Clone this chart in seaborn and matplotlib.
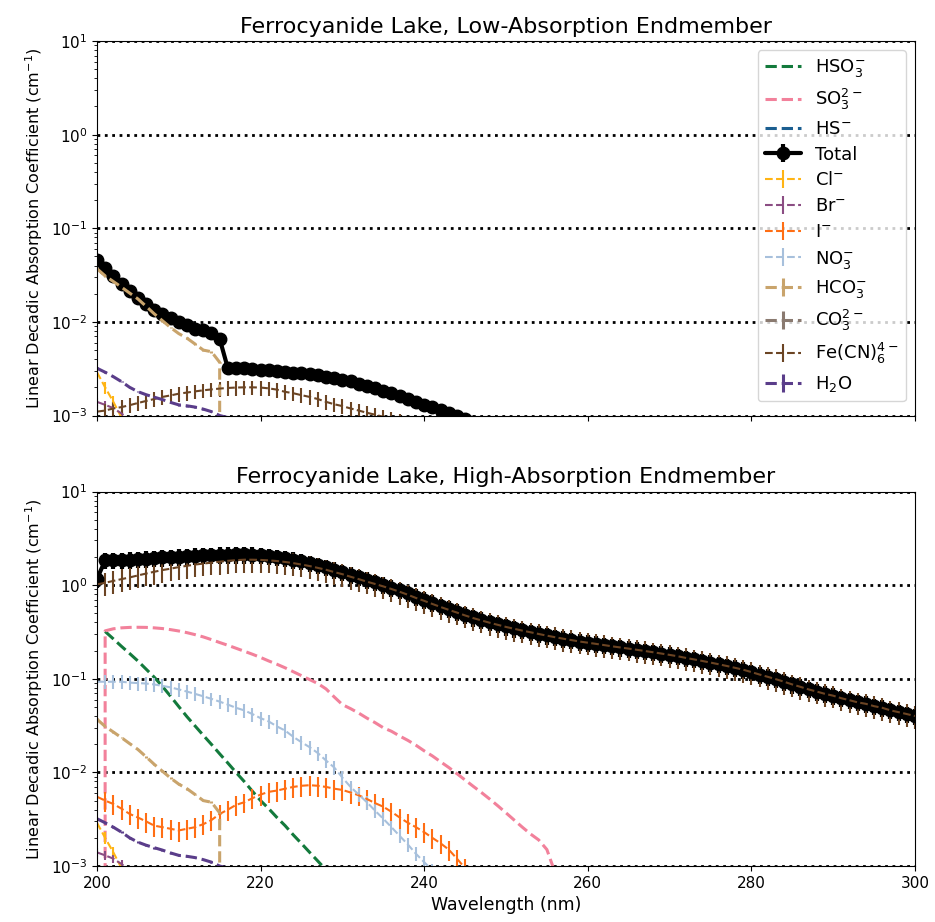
import numpy as np
import matplotlib
matplotlib.use("Agg")
import matplotlib.pyplot as plt
import seaborn as sns

# ---------------- data ----------------
wavelength = list(range(200, 301))  # nm

# Low-absorption endmember
total_low = [0.046, 0.0376, 0.0307, 0.0254, 0.0212, 0.018, 0.0156, 0.0135, 0.012, 0.0109,
             0.0099, 0.0092, 0.0085, 0.0081, 0.0076, 0.0066, 0.0032, 0.0032, 0.00318, 0.00315,
             0.0031, 0.00305, 0.0030, 0.00294, 0.00288, 0.00282, 0.00275, 0.00268, 0.00261, 0.00252,
             0.00242, 0.00231, 0.00219, 0.00207, 0.00195, 0.00183, 0.00172, 0.00161, 0.0015, 0.0014,
             0.00131, 0.00122, 0.00114, 0.00106, 0.00099, 0.00092, 0.00085, 0.00079, 0.00073, 0.00068,
             0.00063]
fe_low = [0.0011, 0.00113, 0.00119, 0.00123, 0.00129, 0.00136, 0.00143, 0.0015, 0.00158, 0.00164,
          0.00171, 0.00176, 0.00181, 0.00186, 0.0019, 0.00194, 0.00197, 0.00199, 0.002, 0.002,
          0.00199, 0.00195, 0.00189, 0.00179, 0.00173, 0.00165, 0.00158, 0.0015, 0.0014, 0.00132,
          0.00126, 0.00119, 0.00113, 0.00107, 0.00102, 0.00097, 0.00092, 0.00087, 0.00082, 0.00077,
          0.00072]

# Shared minor constituents (both endmembers)
hco3 = [0.037, 0.031, 0.027, 0.0235, 0.0203, 0.0176, 0.0147, 0.0122, 0.0103, 0.0087,
        0.0075, 0.0067, 0.0058, 0.005, 0.0048, 0.0037, 0.0]
h2o = [0.0032, 0.0029, 0.0026, 0.0023, 0.002, 0.0018, 0.00167, 0.00157, 0.00148, 0.00138,
       0.0013, 0.00127, 0.00123, 0.00117, 0.0011, 0.001, 0.00095, 0.0009, 0.00085, 0.0008, 0.00075]
cl = [0.0029, 0.002, 0.0014, 0.00095, 0.0006]
br = [0.0014, 0.0013, 0.0012, 0.00105, 0.0009]

# High-absorption endmember
total_high = [1.165, 1.84, 1.85, 1.857, 1.868, 1.893, 1.919, 1.948, 1.975, 1.994,
              2.023, 2.044, 2.066, 2.079, 2.092, 2.105, 2.119, 2.127, 2.127, 2.108,
              2.079, 2.04, 1.994, 1.938, 1.872, 1.798, 1.725, 1.643, 1.559, 1.462,
              1.378, 1.291, 1.215, 1.138, 1.073, 1.008, 0.944, 0.88, 0.817, 0.754,
              0.70, 0.648, 0.60, 0.558, 0.521, 0.484, 0.452, 0.426, 0.402, 0.381,
              0.362, 0.345, 0.33, 0.316, 0.303, 0.29, 0.279, 0.268, 0.259, 0.25,
              0.243, 0.236, 0.229, 0.222, 0.216, 0.21, 0.204, 0.198, 0.192, 0.186,
              0.18, 0.174, 0.167, 0.161, 0.155, 0.149, 0.143, 0.137, 0.131, 0.125,
              0.118, 0.111, 0.105, 0.099, 0.093, 0.087, 0.082, 0.077, 0.073, 0.069,
              0.066, 0.062, 0.059, 0.056, 0.054, 0.051, 0.049, 0.046, 0.044, 0.042,
              0.040]
fe_high = [1.02, 1.06, 1.11, 1.16, 1.21, 1.27, 1.33, 1.39, 1.45, 1.50,
           1.56, 1.61, 1.66, 1.70, 1.74, 1.78, 1.82, 1.85, 1.87, 1.87,
           1.86, 1.84, 1.81, 1.77, 1.72, 1.66, 1.60, 1.53, 1.46, 1.38,
           1.31, 1.23, 1.16, 1.09, 1.03, 0.97, 0.91, 0.85, 0.79, 0.73,
           0.68, 0.63, 0.585, 0.545, 0.51, 0.475, 0.445, 0.42, 0.397, 0.377,
           0.358, 0.342, 0.327, 0.314, 0.301, 0.289, 0.278, 0.268, 0.259, 0.25,
           0.243, 0.236, 0.229, 0.222, 0.216, 0.21, 0.204, 0.198, 0.192, 0.186,
           0.18, 0.174, 0.167, 0.161, 0.155, 0.149, 0.143, 0.137, 0.131, 0.125,
           0.118, 0.111, 0.105, 0.099, 0.093, 0.087, 0.082, 0.077, 0.073, 0.069,
           0.066, 0.062, 0.059, 0.056, 0.054, 0.051, 0.049, 0.046, 0.044, 0.042,
           0.040]
so3_high = [0.0, 0.325, 0.342, 0.35, 0.354, 0.355, 0.354, 0.35, 0.344, 0.335,
            0.324, 0.311, 0.296, 0.28, 0.262, 0.244, 0.228, 0.212, 0.197, 0.183,
            0.169, 0.155, 0.143, 0.131, 0.119, 0.108, 0.098, 0.089, 0.078, 0.064,
            0.053, 0.048, 0.043, 0.038, 0.034, 0.030, 0.0275, 0.0245, 0.022, 0.0195,
            0.017, 0.015, 0.013, 0.0113, 0.0097, 0.0083, 0.0071, 0.0061, 0.0052, 0.0044,
            0.0037, 0.0031, 0.0026, 0.0022, 0.0019, 0.0015, 0.00085, 0.0]
hso3_high = [np.nan, 0.32, 0.267, 0.222, 0.186, 0.155, 0.127, 0.104, 0.083, 0.065,
             0.0505, 0.0394, 0.0313, 0.0249, 0.0199, 0.0158, 0.0126, 0.01, 0.008, 0.0063,
             0.005, 0.0041, 0.0033, 0.0027, 0.00215, 0.00174, 0.0014, 0.00113, 0.00091, 0.00074,
             0.0006]
no3_high = [0.093, 0.093, 0.093, 0.093, 0.091, 0.09, 0.089, 0.087, 0.084, 0.081,
            0.077, 0.073, 0.069, 0.065, 0.061, 0.057, 0.053, 0.049, 0.046, 0.042,
            0.038, 0.035, 0.031, 0.028, 0.024, 0.021, 0.0186, 0.0161, 0.0134, 0.0113,
            0.0088, 0.007, 0.0058, 0.0048, 0.0039, 0.0032, 0.0026, 0.0021, 0.0017, 0.00135,
            0.0011, 0.0009]
i_high = [0.0055, 0.005, 0.0046, 0.0041, 0.0036, 0.0033, 0.003, 0.0027, 0.0026, 0.0025,
          0.0024, 0.0025, 0.0026, 0.0028, 0.0031, 0.0036, 0.004, 0.0045, 0.0048, 0.0053,
          0.0058, 0.0062, 0.0064, 0.0067, 0.007, 0.0072, 0.0073, 0.0072, 0.007, 0.0067,
          0.0065, 0.0061, 0.0057, 0.0052, 0.0047, 0.0043, 0.0038, 0.0033, 0.0029, 0.0026,
          0.0023, 0.002, 0.00175, 0.0015, 0.0012, 0.00095, 0.0008]

# relative 1-sigma uncertainties
err_total_low, err_fe_low = 0.05, 0.18
err_total_high, err_fe_high = 0.2, 0.27
err_no3, err_i, err_cl, err_br, err_hco3, err_h2o = 0.17, 0.24, 0.15, 0.1, 0.02, 0.02

labels = {
    "hso3": r"HSO$_3^{-}$", "so3": r"SO$_3^{2-}$", "hs": r"HS$^{-}$", "total": "Total",
    "cl": r"Cl$^{-}$", "br": r"Br$^{-}$", "i": r"I$^{-}$", "no3": r"NO$_3^{-}$",
    "hco3": r"HCO$_3^{-}$", "co3": r"CO$_3^{2-}$", "fe": r"Fe(CN)$_6^{4-}$", "h2o": r"H$_2$O",
}
colors = {
    "hso3": "#137a3c", "so3": "#f2819b", "hs": "#1b5e90", "total": "black",
    "cl": "#ffb414", "br": "#8b4d83", "i": "#ff6e14", "no3": "#a7c0dc",
    "hco3": "#c9a46c", "co3": "#8a7a70", "fe": "#6b4423", "h2o": "#5a3d8a",
}
widths = {
    "hso3": 2.2, "so3": 2.2, "hs": 2.2, "total": 3.0,
    "cl": 1.5, "br": 1.5, "i": 1.5, "no3": 1.5,
    "hco3": 2.2, "co3": 2.2, "fe": 1.5, "h2o": 2.2,
}

# ---------------- style ----------------
sns.set_style("ticks", {"axes.edgecolor": "black", "xtick.color": "black",
                        "ytick.color": "black", "text.color": "black",
                        "axes.labelcolor": "black"})
plt.rcParams["font.family"] = ["DejaVu Sans"]
plt.rcParams["xtick.labelsize"] = 11
plt.rcParams["ytick.labelsize"] = 11

fig, axes = plt.subplots(2, 1, figsize=(9.35, 9.22), dpi=100, sharex=True)
fig.subplots_adjust(left=0.1037, right=0.9786, top=0.9555, bottom=0.0607, hspace=0.203)


def line(ax, key, x, y):
    sns.lineplot(x=x, y=y, ax=ax, color=colors[key], linestyle="--", lw=widths[key],
                 label=labels[key], estimator=None, sort=False, legend=False)


def ebar(ax, key, x, y, frac, **kw):
    y = np.asarray(y, dtype=float)
    style = dict(color=colors[key], ls="--", lw=widths[key], capsize=0)
    style.update(kw)
    return ax.errorbar(x, y, yerr=frac * y, label=labels[key], **style)


def empty_ebar(ax, key):
    return ax.errorbar([], [], yerr=[], color=colors[key], ls="--", lw=widths[key],
                       capsize=0, label=labels[key])


total_style = dict(ls="-", marker="o", ms=9)

# ---- top: low absorption ----
ax = axes[0]
h_hso3, = ax.plot([], [], color=colors["hso3"], ls="--", lw=widths["hso3"], label=labels["hso3"])
h_so3, = ax.plot([], [], color=colors["so3"], ls="--", lw=widths["so3"], label=labels["so3"])
h_hs, = ax.plot([], [], color=colors["hs"], ls="--", lw=widths["hs"], label=labels["hs"])
h_tot = ebar(ax, "total", wavelength[:len(total_low)], total_low, err_total_low, **total_style)
h_cl = ebar(ax, "cl", wavelength[:len(cl)], cl, err_cl)
h_br = ebar(ax, "br", wavelength[:len(br)], br, err_br)
h_i = empty_ebar(ax, "i")
h_no3 = empty_ebar(ax, "no3")
h_hco3 = ebar(ax, "hco3", wavelength[:len(hco3)], hco3, err_hco3)
h_co3 = empty_ebar(ax, "co3")
h_fe = ebar(ax, "fe", wavelength[:len(fe_low)], fe_low, err_fe_low)
h_h2o = ebar(ax, "h2o", wavelength[:len(h2o)], h2o, err_h2o)
ax.set_title("Ferrocyanide Lake, Low-Absorption Endmember", fontsize=16)

handles = [h_hso3, h_so3, h_hs, h_tot, h_cl, h_br, h_i, h_no3, h_hco3, h_co3, h_fe, h_h2o]
ax.legend(handles=handles, labels=[h.get_label() for h in handles],
          loc="upper right", fontsize=13, labelspacing=0.43)

# ---- bottom: high absorption ----
ax = axes[1]
line(ax, "hso3", wavelength[:len(hso3_high)], hso3_high)
line(ax, "so3", wavelength[:len(so3_high)], so3_high)
ebar(ax, "total", wavelength, total_high, err_total_high, **total_style)
ebar(ax, "cl", wavelength[:len(cl)], cl, err_cl)
ebar(ax, "br", wavelength[:len(br)], br, err_br)
ebar(ax, "i", wavelength[:len(i_high)], i_high, err_i)
ebar(ax, "no3", wavelength[:len(no3_high)], no3_high, err_no3)
ebar(ax, "hco3", wavelength[:len(hco3)], hco3, err_hco3)
ebar(ax, "fe", wavelength, fe_high, err_fe_high)
ebar(ax, "h2o", wavelength[:len(h2o)], h2o, err_h2o)
ax.set_title("Ferrocyanide Lake, High-Absorption Endmember", fontsize=16)
ax.set_xlabel("Wavelength (nm)", fontsize=12.5)
if ax.get_legend() is not None:
    ax.get_legend().remove()

for ax in axes:
    ax.set_yscale("log")
    ax.set_ylim(1e-3, 1e1)
    ax.set_xlim(200, 300)
    ax.set_xticks([200, 220, 240, 260, 280, 300])
    ax.set_ylabel(r"Linear Decadic Absorption Coefficient (cm$^{-1}$)", fontsize=11.5)
    ax.grid(True, which="major", axis="y", color="black", ls=":", lw=2)
    ax.grid(False, which="minor")
    ax.grid(False, axis="x")
    ax.tick_params(which="major", length=3.5, width=0.8)
    ax.tick_params(which="minor", length=2, width=0.6)
    for s in ax.spines.values():
        s.set_linewidth(0.8)
        s.set_visible(True)

fig.savefig("out.png", dpi=100)
